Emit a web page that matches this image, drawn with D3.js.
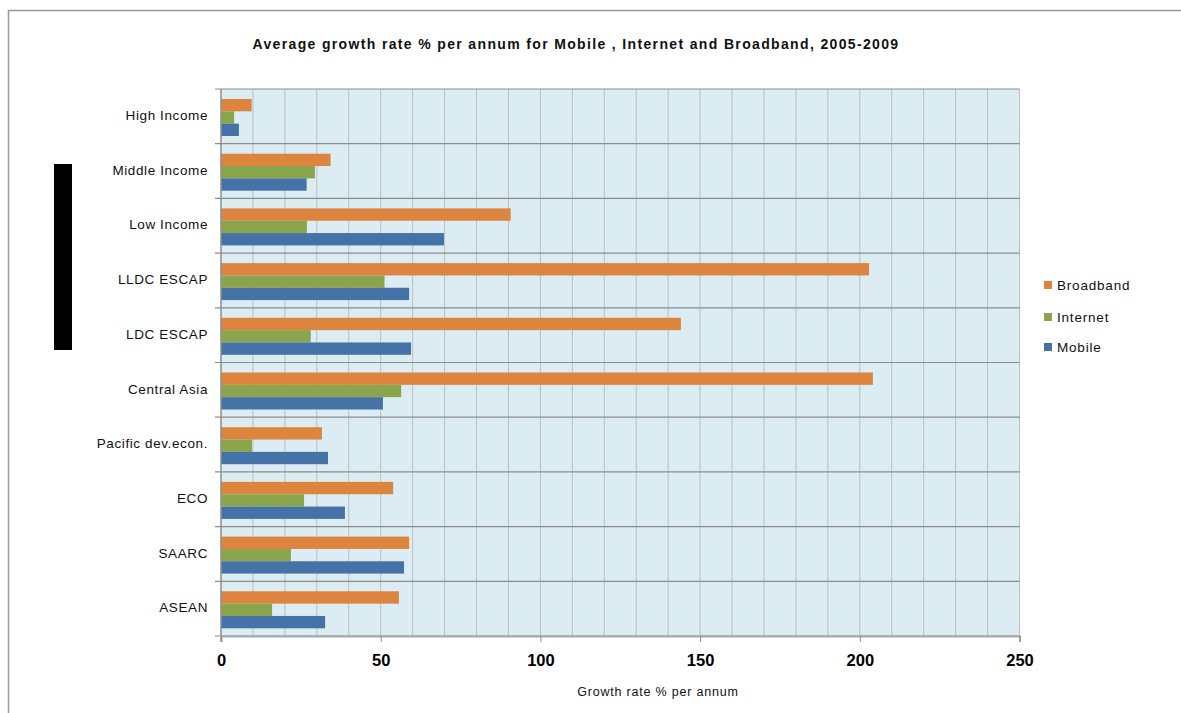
<!DOCTYPE html>
<html>
<head>
<meta charset="utf-8">
<script src="https://cdn.jsdelivr.net/npm/d3@7"></script>
<style>
  html, body { margin: 0; padding: 0; background: #fff; }
  svg { display: block; font-family: "Liberation Sans", Arial, sans-serif; }
</style>
</head>
<body>
<svg id="chart" width="1181" height="713"></svg>
<script>
// Average growth rate % per annum, 2005-2009
const categories = ["High Income", "Middle Income", "Low Income", "LLDC ESCAP", "LDC ESCAP",
  "Central Asia", "Pacific dev.econ.", "ECO", "SAARC", "ASEAN"];
const broadband = [9.6, 34.3, 90.7, 202.9, 144.0, 204.1, 31.6, 53.9, 58.9, 55.7];
const internet  = [4.1, 29.4, 26.9, 51.2, 28.1, 56.4, 9.7, 26.0, 21.9, 16.0];
const mobile    = [5.6, 26.8, 69.8, 58.9, 59.5, 50.7, 33.5, 38.8, 57.3, 32.6];
const seriesNames = ["Broadband", "Internet", "Mobile"];
const xTicks = [0, 50, 100, 150, 200, 250];

const colors = { Broadband: "#DD843F", Internet: "#8AA54C", Mobile: "#4572A7" };
const seriesData = { Broadband: broadband, Internet: internet, Mobile: mobile };

const svg = d3.select("#chart");

// outer chart frame
svg.append("rect")
  .attr("x", 8.5).attr("y", 10.5).attr("width", 1300).attr("height", 900)
  .attr("fill", "none").attr("stroke", "#999").attr("stroke-width", 1.5);

// black marker bar on the left
svg.append("rect")
  .attr("x", 54).attr("y", 164).attr("width", 18).attr("height", 186)
  .attr("fill", "#000");

const plot = { left: 221, right: 1019.5, top: 89, bottom: 636 };

const x = d3.scaleLinear().domain([0, 250]).range([plot.left, plot.right]);
const y = d3.scaleBand().domain(categories).range([plot.top, plot.bottom]);
const inner = d3.scaleBand().domain(seriesNames).range([10, 47]);

// plot background
svg.append("rect")
  .attr("x", plot.left).attr("y", plot.top)
  .attr("width", plot.right - plot.left).attr("height", plot.bottom - plot.top)
  .attr("fill", "#DBECF2");

// vertical gridlines every 10 units
svg.append("g")
  .selectAll("line")
  .data(d3.range(10, 251, 10))
  .join("line")
  .attr("x1", d => x(d)).attr("x2", d => x(d))
  .attr("y1", plot.top).attr("y2", plot.bottom)
  .attr("stroke", "#BEBEBE").attr("stroke-width", 1);

// horizontal category separators
const seps = categories.map(c => y(c)).concat([plot.bottom]);
svg.append("g")
  .selectAll("line")
  .data(seps)
  .join("line")
  .attr("x1", plot.left - 6).attr("x2", plot.right)
  .attr("y1", d => d).attr("y2", d => d)
  .attr("stroke", "#8C8C8C").attr("stroke-width", 1.2);

// bars
const groups = svg.append("g")
  .selectAll("g")
  .data(categories)
  .join("g")
  .attr("transform", d => `translate(0,${y(d)})`);

groups.selectAll("rect")
  .data((c, i) => seriesNames.map(s => ({ s, v: seriesData[s][i] })))
  .join("rect")
  .attr("x", x(0))
  .attr("y", d => inner(d.s))
  .attr("width", d => x(d.v) - x(0))
  .attr("height", inner.bandwidth())
  .attr("fill", d => colors[d.s]);

// left axis line
svg.append("line")
  .attr("x1", plot.left).attr("x2", plot.left)
  .attr("y1", plot.top).attr("y2", plot.bottom + 6)
  .attr("stroke", "#8C8C8C").attr("stroke-width", 1.5);

// bottom axis
const xAxis = d3.axisBottom(x).tickValues(xTicks).tickSize(6).tickPadding(12);
const gx = svg.append("g")
  .attr("transform", `translate(0,${plot.bottom})`)
  .call(xAxis);
gx.select(".domain").attr("stroke", "#AAAAAA").attr("stroke-width", 2);
gx.selectAll(".tick line").attr("stroke", "#8C8C8C");
gx.selectAll(".tick text")
  .attr("font-family", "'Liberation Sans', Arial, sans-serif")
  .attr("font-size", 16.5).attr("font-weight", "bold").attr("fill", "#000");

// category labels
svg.append("g")
  .selectAll("text")
  .data(categories)
  .join("text")
  .attr("x", 208)
  .attr("y", d => y(d) + y.bandwidth() / 2 - 1)
  .attr("dy", "0.35em")
  .attr("text-anchor", "end")
  .attr("font-size", 13.5)
  .attr("letter-spacing", 0.6)
  .attr("fill", "#111")
  .text(d => d);

// title
svg.append("text")
  .attr("x", 576).attr("y", 49)
  .attr("text-anchor", "middle")
  .attr("font-size", 14).attr("font-weight", "bold")
  .attr("letter-spacing", 1.35)
  .attr("fill", "#111")
  .text("Average growth rate % per annum for Mobile , Internet and Broadband, 2005-2009");

// axis title
svg.append("text")
  .attr("x", 658).attr("y", 696)
  .attr("text-anchor", "middle")
  .attr("font-size", 12.5)
  .attr("letter-spacing", 0.8)
  .attr("fill", "#111")
  .text("Growth rate % per annum");

// legend
const legend = svg.append("g")
  .selectAll("g")
  .data(seriesNames)
  .join("g")
  .attr("transform", (d, i) => `translate(1044,${285 + [0, 32, 62][i]})`);
legend.append("rect")
  .attr("x", 0).attr("y", -4).attr("width", 8).attr("height", 8)
  .attr("fill", d => colors[d]);
legend.append("text")
  .attr("x", 13).attr("y", 0).attr("dy", "0.35em")
  .attr("font-size", 13.5).attr("letter-spacing", 0.8)
  .attr("fill", "#111")
  .text(d => d);
</script>
</body>
</html>
